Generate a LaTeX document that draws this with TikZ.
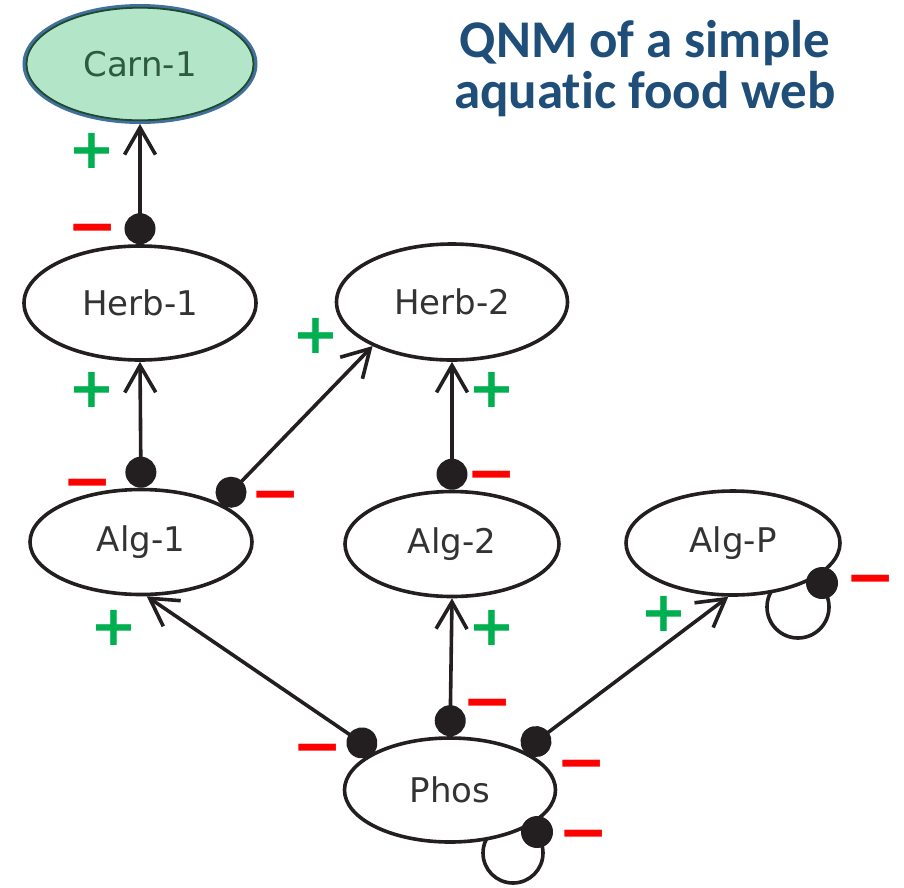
\documentclass[tikz,border=0pt]{standalone}
\usepackage{fontspec}
\setmainfont{DejaVu Sans}
\newfontfamily\calfont{Carlito}[Ligatures=NoCommon]
\newfontfamily\signfont{DejaVu Sans Bold}
\usetikzlibrary{arrows.meta,shapes.geometric,calc,backgrounds}
\definecolor{titleblue}{HTML}{1F4E79}
\definecolor{signgreen}{HTML}{00B050}
\definecolor{signred}{HTML}{FF0000}
\definecolor{nodetext}{HTML}{333333}
\definecolor{carnfill}{HTML}{B3E6C8}
\definecolor{carnblue}{HTML}{41709C}
\definecolor{carndark}{HTML}{1F4A2E}
\definecolor{carntext}{HTML}{2E5A3E}
\definecolor{inkblack}{HTML}{231F20}
\tikzset{
  nd/.style={ellipse, draw=inkblack, line width=3.6pt, fill=white, inner sep=0pt,
    text=nodetext, font=\fontsize{34}{40}\selectfont},
  link/.style={line width=3.6pt, draw=inkblack,
    {Circle[length=31pt]}-{Straight Barb[length=27pt,width=31pt]}},
  loopline/.style={line width=3.6pt, draw=inkblack},
  dotnode/.style={circle, fill=inkblack, inner sep=0pt, minimum size=32pt},
  plussign/.style={inner sep=0pt, text=signgreen, font=\signfont\fontsize{56}{56}\selectfont},
  minussign/.style={inner sep=0pt, yshift=-9pt, text=signred, font=\signfont\fontsize{60}{60}\selectfont},
  titletext/.style={align=center, text=titleblue, inner sep=0pt,
    font=\calfont\bfseries\fontsize{53}{51}\selectfont}
}
\begin{document}
\begin{tikzpicture}[x=1pt,y=-1pt]
\useasboundingbox (0,0) rectangle (904,887);

% title
\node[titletext] (title) at (645,69) {QNM of a simple\\aquatic food web};

% nodes
\node[nd, fill=carnfill, draw=carnblue, line width=4pt, text=carntext,
      minimum width=231pt, minimum height=116pt] (carn) at (140,64) {Carn-1};
\draw[carndark, line width=1.8pt] (carn.center) ellipse [x radius=113.5pt, y radius=56.3pt];
\node[nd, minimum width=232pt, minimum height=114pt] (herb1) at (140,303) {Herb-1};
\node[nd, minimum width=231pt, minimum height=116pt] (herb2) at (452,302) {Herb-2};
\node[nd, minimum width=222pt, minimum height=105pt] (alg1) at (141,542) {Alg-1};
\node[nd, minimum width=214pt, minimum height=105pt] (alg2) at (452,544) {Alg-2};
\node[nd, minimum width=214pt, minimum height=104pt] (algp) at (733,543) {Alg-P};
\node[nd, minimum width=211pt, minimum height=104pt] (phos) at (450,790) {Phos};

% self loops (behind the nodes)
\begin{scope}[on background layer]
\draw[loopline] ($(algp)+(65,64)$) circle[radius=31pt];
\draw[loopline] ($(phos)+(63,63)$) circle[radius=30pt];
\end{scope}
\node[dotnode] (algpdot) at ($(algp)+(89,40)$) {};
\node[dotnode] (phosdot) at ($(phos)+(87,42)$) {};

% connectors
\draw[link] (herb1.north) -- (carn.south);
\draw[link] (alg1.north) -- (herb1.south);
\draw[link] (alg1.26) -- (herb2.209);
\draw[link] (alg2.north) -- (herb2.south);
\draw[link] (phos.153) -- (alg1.276);
\draw[link] (phos.north) -- (alg2.south);
\draw[link] (phos.28) -- (algp.265);

% signs
\node[plussign] (s1) at (92,151) {+};
\node[minussign] (s2) at (93,226) {−};
\node[plussign] (s3) at (92,390) {+};
\node[minussign] (s4) at (88,481) {−};
\node[minussign] (s5) at (276,493) {−};
\node[plussign] (s6) at (316,336) {+};
\node[plussign] (s7) at (492,390) {+};
\node[minussign] (s8) at (492,473) {−};
\node[plussign] (s9) at (114,628) {+};
\node[plussign] (s10) at (492,628) {+};
\node[plussign] (s11) at (664,614) {+};
\node[minussign] (s12) at (871,577) {−};
\node[minussign] (s13) at (318,746) {−};
\node[minussign] (s14) at (488,701) {−};
\node[minussign] (s15) at (582,762) {−};
\node[minussign] (s16) at (584,832) {−};
\end{tikzpicture}
\end{document}
